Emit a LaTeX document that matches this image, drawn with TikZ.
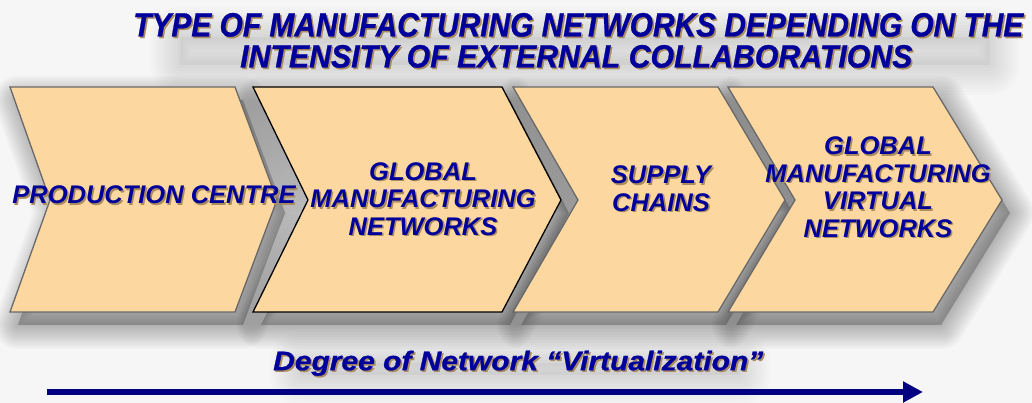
\documentclass[tikz,border=0pt]{standalone}
\usepackage{fontspec}
\setmainfont{Liberation Sans}
\newfontfamily\headfont[FakeBold=0.8]{Liberation Sans Bold Italic}
\usetikzlibrary{arrows.meta,calc}
\definecolor{peach}{RGB}{253,215,160}
\definecolor{txtblue}{RGB}{0,0,155}
\definecolor{navy}{RGB}{0,0,128}
\definecolor{txtshade}{RGB}{170,140,95}
\definecolor{bordergray}{RGB}{105,105,105}
\definecolor{bgcol}{RGB}{246,246,246}
% chevron: left-top x, right-top x, notch depth, tip depth
\newcommand\chevron[4]{(#1,316) -- (#2,316) -- (#2+#4,203) -- (#2,91) -- (#1,91) -- (#1+#3,203) -- cycle}
\newcommand\chevshadow[4]{%
  \fill[shift={(8,-13)}, black, opacity=0.22] \chevron{#1}{#2}{#3}{#4};
  \foreach \w in {48,44,...,4}{\draw[shift={(8,-13)}, line width=\w, line join=round, black, opacity=0.022] \chevron{#1}{#2}{#3}{#4};}}
\newcommand\softbox[4]{%
  \fill[black, opacity=0.03] (#1,#2) rectangle (#3,#4);
  \foreach \w in {60,54,...,6}{\draw[line width=\w, line join=round, black, opacity=0.012] (#1,#2) rectangle (#3,#4);}}
\newcommand\stext[4]{%
  \node[#2, text=txtshade] at ($(#3)+(1.6,-1.6)$) {#4};
  \node[#2] (#1) at (#3) {#4};}
\tikzset{
  chevbox/.style={fill=peach, draw=bordergray, line width=1.3pt, line join=miter},
  chevboxdark/.style={chevbox, draw=black},
  chevtxt/.style={text=txtblue, font=\bfseries\itshape\fontsize{25.5}{27.5}\selectfont, align=center, inner sep=0pt},
  headtxt/.style={text=txtblue, inner sep=0pt, anchor=south west, font=\headfont},
  axisarrow/.style={draw=navy, line width=6pt, -{Triangle[length=20pt,width=20pt]}}
}
\begin{document}
\begin{tikzpicture}[x=1pt,y=1pt]
\useasboundingbox (0,0) rectangle (1032,403);
\fill[bgcol] (0,0) rectangle (1032,403);
% soft halos behind title and axis text
\softbox{180}{338}{990}{366}
\softbox{300}{28}{740}{40}
% chevron shadows
\chevshadow{10}{235}{40}{42}
\chevshadow{253}{502}{55}{59}
\chevshadow{513}{718}{65}{67}
\chevshadow{728}{933}{67}{69}
% chevrons
\path[chevbox] \chevron{10}{235}{40}{42};
\path[chevboxdark] \chevron{253}{502}{55}{59};
\path[chevbox] \chevron{513}{718}{65}{67};
\path[chevbox] \chevron{728}{933}{67}{69};
% chevron labels
\stext{c1}{chevtxt}{154,208}{PRODUCTION CENTRE}
\stext{c2}{chevtxt}{423,204}{GLOBAL\\MANUFACTURING\\NETWORKS}
\stext{c3}{chevtxt}{661,214.5}{SUPPLY\\CHAINS}
\stext{c4}{chevtxt}{878,216}{GLOBAL\\MANUFACTURING\\VIRTUAL\\NETWORKS}
% title
\stext{t1}{headtxt}{133,366}{\resizebox{890pt}{23.5pt}{TYPE OF MANUFACTURING NETWORKS DEPENDING ON THE}}
\stext{t2}{headtxt}{240,335}{\resizebox{672pt}{22.5pt}{INTENSITY OF EXTERNAL COLLABORATIONS}}
% axis
\stext{ax}{headtxt}{273,27}{\resizebox{490pt}{19.5pt}{Degree of Network “Virtualization”}}
\coordinate (a0) at (47,11);
\coordinate (a1) at (923,11);
\draw[axisarrow] (a0) -- (a1);
\end{tikzpicture}
\end{document}
